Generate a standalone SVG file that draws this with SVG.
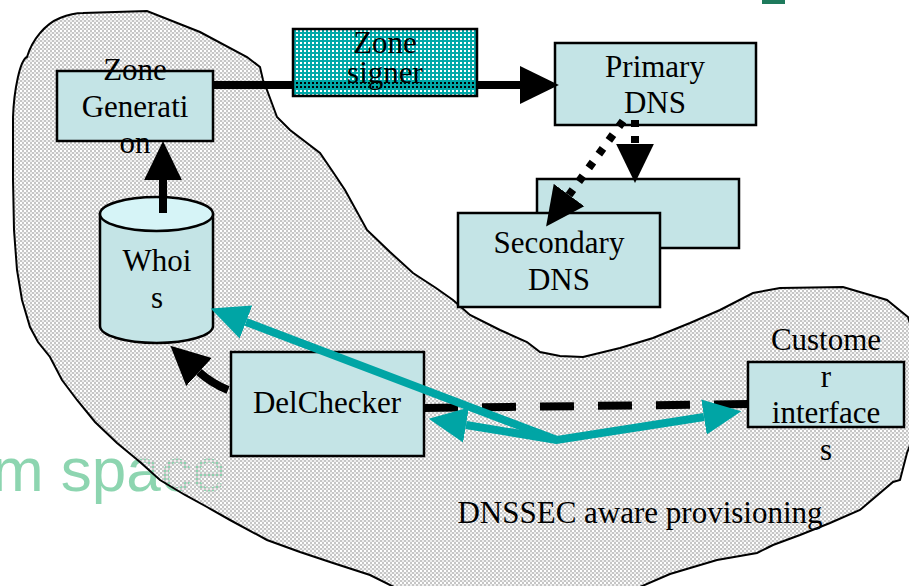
<svg xmlns="http://www.w3.org/2000/svg" width="909" height="586" viewBox="0 0 909 586">
<defs>
<pattern id="stip" width="4" height="4" patternUnits="userSpaceOnUse">
<rect x="0" y="0" width="2" height="2" fill="#c6c6c6"/>
<rect x="2" y="2" width="2" height="2" fill="#c6c6c6"/>
<rect x="2" y="0" width="2" height="2" fill="#eeeeee"/>
</pattern>
<pattern id="teal" width="4" height="4" patternUnits="userSpaceOnUse">
<rect x="0" y="0" width="2" height="2" fill="#00a8a8"/>
<rect x="2" y="2" width="2" height="2" fill="#00a8a8"/>
<rect x="2" y="0" width="2" height="2" fill="#00a8a8"/>
</pattern>
<marker id="ab" markerUnits="userSpaceOnUse" markerWidth="40" markerHeight="40" viewBox="0 -18 36 36" refX="0" refY="0" orient="auto">
<path d="M0,-17 L35,0 L0,17 Z" fill="#000"/>
</marker>
<marker id="at" markerUnits="userSpaceOnUse" markerWidth="40" markerHeight="40" viewBox="0 -18 36 36" refX="0" refY="0" orient="auto-start-reverse">
<path d="M0,-16 L34,0 L0,16 Z" fill="#00a5a5"/>
</marker>
<style>
.box{fill:#c4e4e6;stroke:#000;stroke-width:2.5}
.t{font-family:"Liberation Serif","Times New Roman",serif;font-size:31px;fill:#000;text-anchor:middle}
.blk{stroke:#000;stroke-width:8;fill:none}
.tl{stroke:#00a5a5;stroke-width:8;fill:none}
</style>
</defs>
<rect width="909" height="586" fill="#fff"/>
<rect x="762" y="0" width="23" height="4" fill="#1e7a5c"/>
<text x="-8" y="491" font-family="'Liberation Sans','Open Sans',sans-serif" font-size="62" fill="#8dd5b0">m space</text>
<g id="blob">
<path d="M13,117 C14,90 20,60 27,57 C32,40 45,24 60,18 C70,14 78,13 83,13 L147,11 L200,32 L247,57 L260,67 L263,80 L267,90 L277,117 L290,130 L320,153 L333,172 L345,190 L367,230 L390,252 L413,273 L436,288 L453,300 L470,315 L500,330 L527,342 L540,352 L560,356 L583,357 L620,348 L653,338 L690,323 L720,310 L753,293 L780,288 L843,287 L887,300 L908,317 L912,330 L912,440 L907,453 L900,480 L893,482 L860,510 L830,523 L800,535 L773,545 L767,548 L757,553 L717,560 L670,574 L633,590 L400,590 L370,575 L333,563 L300,552 L267,540 L230,520 L207,507 L185,495 L160,480 L140,462 L117,443 L95,422 L77,400 L62,380 L50,357 L38,342 L30,327 L22,300 L17,270 L14,230 L13,180 Z" fill="url(#stip)" stroke="#000" stroke-width="2"/>
</g>
<g id="zone-generation">
<rect class="box" x="57" y="71" width="156" height="70"/>
<text class="t" x="135" y="80">Zone</text>
<text class="t" x="135" y="117">Generati</text>
<text class="t" x="135" y="153">on</text>
</g>
<g id="primary-dns">
<rect class="box" x="555" y="43" width="201" height="82"/>
<text class="t" x="655" y="77">Primary</text>
<text class="t" x="655" y="113">DNS</text>
</g>
<g id="secondary-back">
<rect class="box" x="537" y="179" width="202" height="69"/>
</g>
<g id="secondary-dns">
<rect class="box" x="458" y="213" width="202" height="94"/>
<text class="t" x="559" y="253">Secondary</text>
<text class="t" x="559" y="290">DNS</text>
</g>
<g id="whois">
<path d="M100,214 L100,326 A56.5,17 0 0 0 213,326 L213,214 Z" fill="#c4e4e6" stroke="#000" stroke-width="2.5"/>
<ellipse cx="156.5" cy="214" rx="56.5" ry="17" fill="#d6f4f7" stroke="#000" stroke-width="2.5"/>
<text class="t" x="157" y="271">Whoi</text>
<text class="t" x="157" y="308">s</text>
</g>
<g id="delchecker">
<rect class="box" x="231" y="352" width="193" height="104"/>
<text class="t" x="327" y="413">DelChecker</text>
</g>
<g id="customer-interfaces">
<rect class="box" x="748" y="362" width="156" height="65"/>
<text class="t" x="826" y="350">Custome</text>
<text class="t" x="826" y="387">r</text>
<text class="t" x="826" y="423">interface</text>
<text class="t" x="826" y="460">s</text>
</g>
<g id="label">
<text class="t" x="640" y="523">DNSSEC aware provisioning</text>
</g>
<g id="connectors">
<line class="blk" x1="213" y1="85" x2="520" y2="85" marker-end="url(#ab)"/>
<line class="blk" x1="163" y1="213" x2="163" y2="180" marker-end="url(#ab)"/>
<line class="blk" x1="635" y1="120" x2="635" y2="144" stroke-dasharray="7 9" marker-end="url(#ab)"/>
<line class="blk" x1="623" y1="121" x2="569" y2="195" stroke-dasharray="7 10" marker-end="url(#ab)"/>
<path class="blk" d="M228,390 Q211,383 199,372" marker-end="url(#ab)"/>
<line class="blk" x1="424" y1="408" x2="748" y2="404" stroke-dasharray="34 24"/>
<path class="tl" d="M246,322 L557,440 L704,417" marker-start="url(#at)" marker-end="url(#at)"/>
<line class="tl" x1="557" y1="440" x2="466" y2="425" marker-end="url(#at)"/>
</g>
<g id="zone-signer">
<rect x="293" y="29" width="184" height="67" fill="url(#teal)" stroke="#000" stroke-width="2.5"/>
<text class="t" x="385" y="53">Zone</text>
<text class="t" x="385" y="83">signer</text>
</g>
</svg>
